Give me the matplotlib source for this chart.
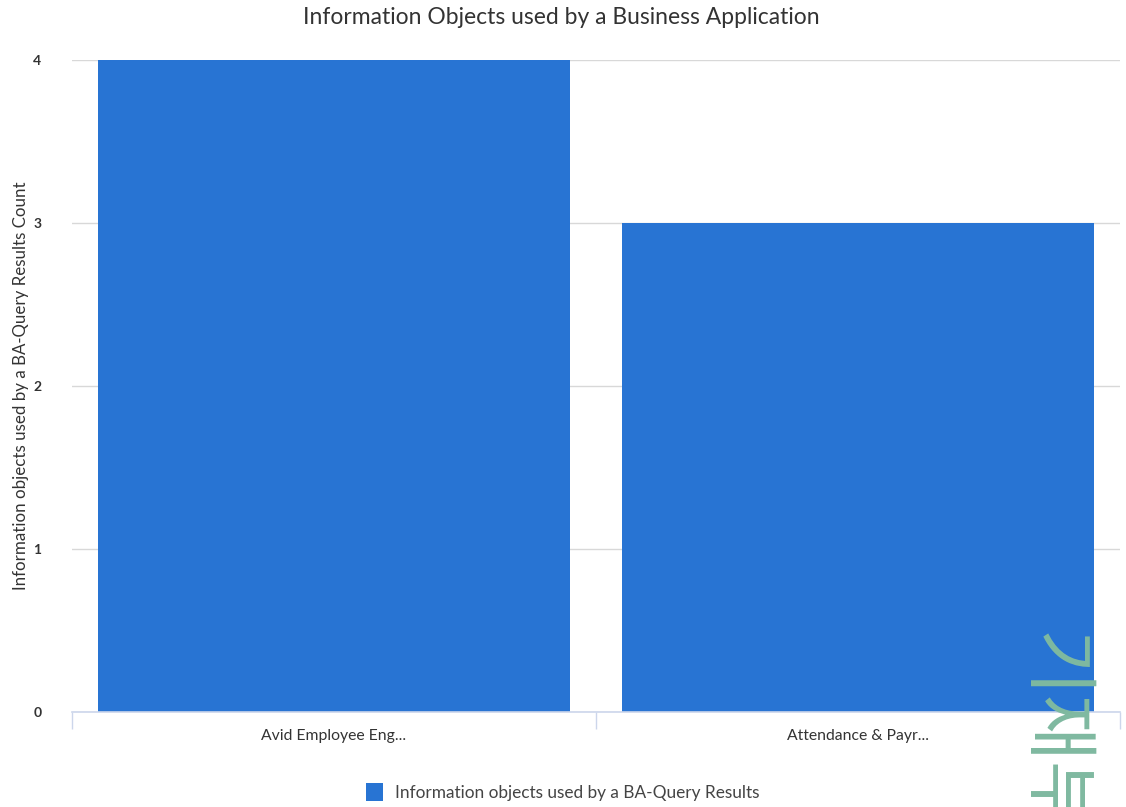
import matplotlib
matplotlib.use("Agg")
import matplotlib.pyplot as plt
from matplotlib.patches import Patch

plt.rcParams['font.family'] = ['Lato', 'DejaVu Sans']

categories = ["Avid Employee Eng...", "Attendance & Payr..."]
counts = [4, 3]
y_ticks = [0, 1, 2, 3, 4]
series_name = "Information objects used by a BA-Query Results"
title = "Information Objects used by a Business Application"
y_label = "Information objects used by a BA-Query Results Count"

bar_color = "#2874d3"
grid_color = "#d8d8d8"
axis_color = "#ccd6eb"
text_color = "#333333"

fig = plt.figure(figsize=(11.26, 8.07), dpi=100)
ax = fig.add_axes([72 / 1126, 1 - 712 / 807, 1048 / 1126, 652 / 807])

x = list(range(len(categories)))
ax.bar(x, counts, width=0.9, color=bar_color, zorder=2)

ax.set_xlim(-0.5, len(categories) - 0.5)
ax.set_ylim(0, 4)
ax.set_yticks(y_ticks)
ax.set_yticklabels([str(v) for v in y_ticks], fontsize=10, color=text_color,
                   fontweight='bold')
ax.yaxis.grid(True, color=grid_color, linewidth=1, zorder=0)
ax.tick_params(axis='y', length=0, pad=22)

ax.set_xticks(x)
ax.set_xticklabels(categories, fontsize=11.3, color=text_color)
ax.set_xticks([i - 0.5 for i in range(len(categories) + 1)], minor=True)
ax.tick_params(axis='x', which='major', length=0, pad=12)
ax.tick_params(axis='x', which='minor', length=12, color=axis_color, width=1)

for side in ['top', 'right', 'left']:
    ax.spines[side].set_visible(False)
ax.spines['bottom'].set_color(axis_color)
ax.spines['bottom'].set_linewidth(1.2)

ax.set_ylabel(y_label, fontsize=12.2, color=text_color)
ax.yaxis.set_label_coords(-43 / 1048, 0.5)

fig.text(561 / 1126, 1 - 17 / 807, title, ha='center', va='center',
         fontsize=16.5, color=text_color)

handle = Patch(facecolor=bar_color, edgecolor='none')
fig.legend([handle], [series_name], loc='center', bbox_to_anchor=(563 / 1126, 1 - 792 / 807),
           frameon=False, fontsize=12.4, handlelength=1.0, handleheight=1.3,
           handletextpad=0.7, labelcolor='#444444')

# faint stamp running down the lower right corner, partly off the page
fig.text(1052 / 1126, 1 - 632 / 807, "기재부", rotation=270, ha='center', va='top',
         fontsize=52, color='#7fb9a0', family=['Noto Sans CJK KR'], fontweight='light',
         zorder=10)

fig.savefig("out.png", dpi=100, facecolor='white')
